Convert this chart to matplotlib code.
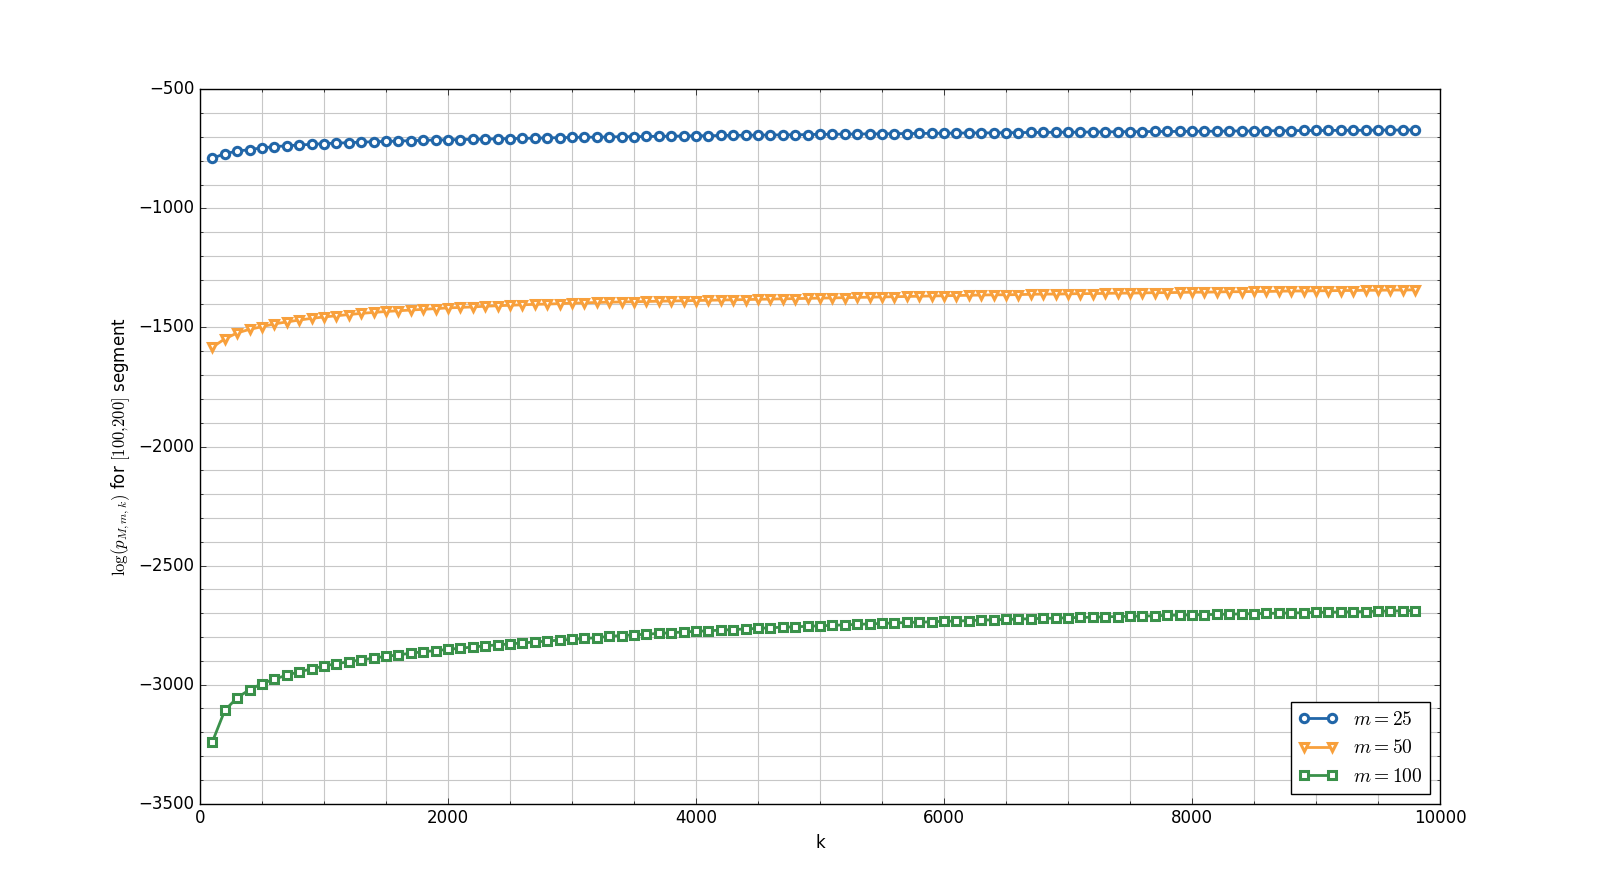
import matplotlib

matplotlib.use("Agg")
import matplotlib.pyplot as plt
import numpy as np
from matplotlib.ticker import MultipleLocator

plt.style.use("classic")
plt.rcParams["figure.facecolor"] = "white"
plt.rcParams["savefig.facecolor"] = "white"
plt.rcParams["mathtext.fontset"] = "cm"

# k values: 100, 200, ..., 9800
K_VALUES = list(range(100, 9900, 100))

LOGP_M25 = [
    -790, -770, -760, -753, -746, -741, -737, -734, -731, -728,
    -726, -724, -722, -720, -719, -717, -716, -714, -713, -712,
    -711, -710, -709, -708, -707, -706, -705, -704, -703, -702,
    -701, -701, -700, -699, -699, -698, -697, -697, -696, -695,
    -695, -694, -693, -693, -692, -692, -691, -691, -690, -689,
    -689, -688, -688, -687, -687, -686, -686, -685, -685, -684,
    -684, -683, -683, -683, -682, -682, -681, -681, -680, -680,
    -680, -679, -679, -678, -678, -678, -677, -677, -677, -676,
    -676, -676, -675, -675, -675, -674, -674, -674, -673, -673,
    -673, -672, -672, -672, -671, -671, -671, -670,
]

LOGP_M50 = [
    -1583, -1548, -1523, -1508, -1497, -1485, -1477, -1469, -1462, -1456,
    -1451, -1446, -1441, -1437, -1433, -1430, -1427, -1424, -1421, -1418,
    -1416, -1414, -1411, -1409, -1407, -1405, -1403, -1402, -1400, -1398,
    -1397, -1395, -1394, -1393, -1392, -1391, -1390, -1389, -1388, -1387,
    -1386, -1385, -1384, -1383, -1382, -1381, -1380, -1379, -1378, -1377,
    -1376, -1375, -1374, -1373, -1372, -1371, -1370, -1369, -1368, -1367,
    -1366, -1365, -1364, -1363, -1363, -1362, -1361, -1360, -1360, -1359,
    -1358, -1358, -1357, -1356, -1356, -1355, -1354, -1354, -1353, -1352,
    -1352, -1351, -1350, -1350, -1349, -1349, -1348, -1347, -1347, -1346,
    -1346, -1345, -1345, -1344, -1344, -1343, -1343, -1342,
]

LOGP_M100 = [
    -3240, -3108, -3055, -3021, -2996, -2977, -2960, -2946, -2934, -2922,
    -2912, -2904, -2896, -2889, -2881, -2875, -2868, -2862, -2857, -2852,
    -2847, -2842, -2837, -2833, -2829, -2825, -2821, -2817, -2813, -2810,
    -2806, -2803, -2797, -2794, -2791, -2788, -2785, -2782, -2779, -2776,
    -2774, -2771, -2769, -2766, -2764, -2761, -2759, -2757, -2755, -2753,
    -2751, -2749, -2747, -2745, -2743, -2741, -2739, -2738, -2736, -2734,
    -2733, -2731, -2729, -2728, -2726, -2725, -2723, -2722, -2721, -2719,
    -2718, -2717, -2715, -2714, -2713, -2712, -2711, -2709, -2708, -2707,
    -2706, -2705, -2704, -2703, -2702, -2701, -2700, -2699, -2698, -2697,
    -2696, -2695, -2694, -2693, -2692, -2691, -2690, -2689,
]

SERIES = [
    (LOGP_M25, r"$m=25$", "#2166a8", "o"),
    (LOGP_M50, r"$m=50$", "#f8a03c", "v"),
    (LOGP_M100, r"$m=100$", "#3a914a", "s"),
]


def main() -> None:
    fig, ax = plt.subplots(figsize=(16, 8.93), dpi=100)
    fig.subplots_adjust(left=0.125, right=0.9, bottom=0.1, top=0.9)

    for values, label, color, marker in SERIES:
        ax.plot(
            K_VALUES,
            values,
            color=color,
            marker=marker,
            markersize=6,
            markeredgewidth=2.2,
            markeredgecolor=color,
            markerfacecolor="white",
            linewidth=2,
            label=label,
        )

    ax.set_xlim(0, 10000)
    ax.set_ylim(-3500, -500)
    ax.xaxis.set_major_locator(MultipleLocator(2000))
    ax.xaxis.set_minor_locator(MultipleLocator(500))
    ax.yaxis.set_major_locator(MultipleLocator(500))
    ax.yaxis.set_minor_locator(MultipleLocator(100))
    ax.grid(True, which="both", color="0.78", linestyle="-", linewidth=0.8)
    ax.set_axisbelow(True)

    ax.set_xlabel("k")
    ax.set_ylabel(r"$\log(p_{M,m,k})$ for $[100{,}200]$ segment")
    ax.legend(loc="lower right", fontsize=14)

    fig.savefig("out.png", dpi=100)
    plt.close(fig)


if __name__ == "__main__":
    main()
